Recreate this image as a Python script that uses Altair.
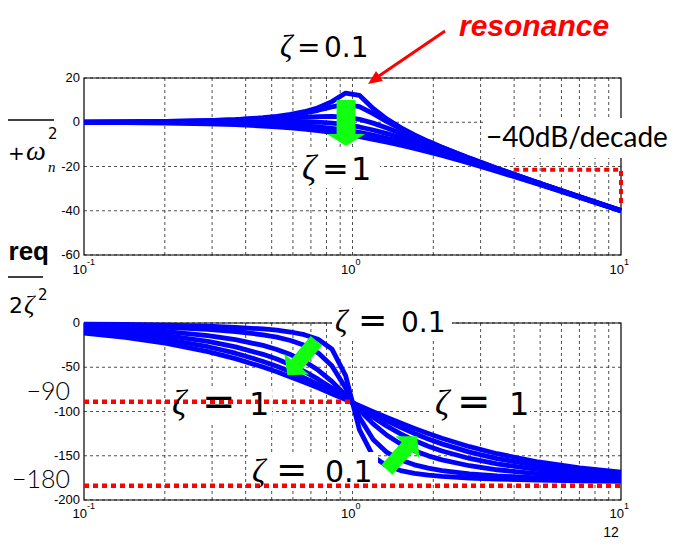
import altair as alt
import pandas as pd

# ---------------- values ----------------
OMEGA = [0.1, 0.1425, 0.2031, 0.2893, 0.3664, 0.4642, 0.5223, 0.5878, 0.6614,
         0.7444, 0.8377, 0.9427, 1.0608, 1.1938, 1.3434, 1.5118, 1.7013,
         1.9146, 2.1544, 2.7283, 3.4551, 4.9239, 7.0170, 10.0]
ZETA = [0.1, 0.2, 0.4, 0.6, 0.8, 1.0]

MAG_Z01 = [0.09, 0.18, 0.36, 0.74, 1.22, 2.05, 2.68, 3.54, 4.76, 6.56, 9.32, 13.19,
           12.17, 6.24, 1.43, -2.42, -5.69, -8.61, -11.29, -16.21, -20.80, -27.33, -33.67, -39.92]
MAG_Z02 = [0.08, 0.16, 0.34, 0.69, 1.13, 1.87, 2.42, 3.16, 4.13, 5.41, 6.96, 8.11,
           7.08, 3.89, 0.29, -3.05, -6.08, -8.86, -11.46, -16.31, -20.85, -27.36, -33.68, -39.92]
MAG_Z04 = [0.06, 0.12, 0.24, 0.49, 0.78, 1.23, 1.53, 1.87, 2.24, 2.57, 2.69, 2.36,
           1.33, -0.39, -2.56, -4.94, -7.36, -9.76, -12.10, -16.65, -21.05, -27.45, -33.73, -39.94]
MAG_Z06 = [0.02, 0.05, 0.09, 0.18, 0.26, 0.34, 0.35, 0.33, 0.24, 0.01, -0.41, -1.11,
           -2.14, -3.49, -5.11, -6.94, -8.90, -10.93, -13.00, -17.18, -21.36, -27.60, -33.80, -39.98]
MAG_Z08 = [-0.02, -0.05, -0.11, -0.23, -0.39, -0.67, -0.89, -1.18, -1.57, -2.09, -2.75, -3.59,
           -4.62, -5.83, -7.22, -8.75, -10.41, -12.17, -14.00, -17.82, -21.77, -27.80, -33.90, -40.02]
MAG_Z10 = [-0.09, -0.17, -0.35, -0.70, -1.09, -1.70, -2.10, -2.58, -3.15, -3.83, -4.62, -5.52,
           -6.55, -7.69, -8.96, -10.33, -11.81, -13.38, -15.03, -18.53, -22.24, -28.04, -34.02, -40.09]

PH_Z01 = [-1.16, -1.67, -2.43, -3.61, -4.84, -6.75, -8.17, -10.18, -13.23, -18.46, -29.32, -59.44,
          -120.56, -150.69, -161.54, -166.76, -169.82, -171.83, -173.25, -175.16, -176.38, -177.57, -178.33, -178.84]
PH_Z02 = [-2.31, -3.33, -4.84, -7.20, -9.61, -13.32, -16.03, -19.76, -25.19, -33.74, -48.33, -73.55,
          -106.45, -131.68, -146.27, -154.81, -160.24, -163.97, -166.69, -170.39, -172.80, -175.16, -176.67, -177.69]
PH_Z04 = [-4.62, -6.64, -9.62, -14.18, -18.70, -25.33, -29.88, -35.70, -43.24, -53.18, -66.00, -81.60,
          -98.40, -114.01, -126.82, -136.75, -144.30, -150.12, -154.67, -161.29, -165.82, -170.38, -173.36, -175.38]
PH_Z06 = [-6.91, -9.90, -14.26, -20.75, -26.92, -35.38, -40.76, -47.14, -54.67, -63.48, -73.47, -84.38,
          -95.62, -106.53, -116.52, -125.32, -132.86, -139.24, -144.63, -153.07, -159.24, -165.74, -170.10, -173.09]
PH_Z08 = [-9.18, -13.10, -18.72, -26.80, -34.10, -43.43, -48.97, -55.16, -62.00, -69.48, -77.45, -85.78,
          -94.22, -102.55, -110.53, -117.99, -124.84, -131.03, -136.57, -145.89, -153.18, -161.28, -166.90, -170.82]
PH_Z10 = [-11.42, -16.22, -22.96, -32.27, -40.25, -49.80, -55.15, -60.89, -66.96, -73.33, -79.91, -86.62,
          -93.38, -100.10, -106.67, -113.04, -119.11, -124.85, -130.20, -139.74, -147.71, -157.04, -163.78, -168.58]

MAGS = [MAG_Z01, MAG_Z02, MAG_Z04, MAG_Z06, MAG_Z08, MAG_Z10]
PHASES = [PH_Z01, PH_Z02, PH_Z04, PH_Z06, PH_Z08, PH_Z10]

GRID_W = [0.2, 0.3, 0.4, 0.5, 0.6, 0.7, 0.8, 0.9, 1, 2, 3, 4, 5, 6, 7, 8, 9]
MAG_TICKS = [20, 0, -20, -40, -60]
MAG_LABELS = ["20", "0", "-20", "-40", "-60"]
PHASE_TICKS = [0, -50, -100, -150, -200]
PHASE_LABELS = ["0", "-50", "-100", "-150", "-200"]
DECADE_W = [0.1, 1, 10]
DECADE_EXP = ["-1", "0", "1"]

SLOPE_W = [4, 10, 10]          # -40 dB/decade marker
SLOPE_DB = [-21.5, -21.5, -37]
REF90_W = [0.1, 1]
REF90_DEG = [-89, -89]
REF180_W = [0.1, 10]
REF180_DEG = [-184, -184]

ARROW_MAG_W, ARROW_MAG_DB = [0.946], [-0.3]
ARROW_PH_W, ARROW_PH_DEG, ARROW_PH_ANGLE = [0.648, 1.529], [-39.5, -146.9], [40, 222]

# ---------------- layout ----------------
OX, OY = 84, 78           # page position of the plot origin
PW, PH = 537, 422         # one view holding both panels
MAG_DOM = [-170.73, 20]   # puts 20..-60 dB in the upper 177 px
PH_DOM = [-200, 276.84]   # puts 0..-200 deg in the lower 177 px
TOP_H = 177

xs = alt.Scale(type="log", domain=[0.1, 10], nice=False)
ys_top = alt.Scale(domain=MAG_DOM, nice=False, zero=False)
ys_bot = alt.Scale(domain=PH_DOM, nice=False, zero=False)

ONE = pd.DataFrame({"k": [0]})
BLUE = "#0000ff"
RED = "#ff0000"
GREEN = "#11ff11"
SANS = "DejaVu Sans"
SERIF = "Liberation Serif"
TICKFONT = "Liberation Sans"

ARROW_BIG = "M -0.41 -1 L 0.41 -1 L 0.41 0.48 L 0.83 0.48 L 0 1 L -0.83 0.48 L -0.41 0.48 Z"
ARROW_SMALL = "M -0.33 -1 L 0.33 -1 L 0.33 0.36 L 0.72 0.36 L 0 1 L -0.72 0.36 L -0.33 0.36 Z"
HEAD = "M 0 0 L 0.6 1.4 L -0.6 1.4 Z"


def txt(s, x, y, size, font=SANS, align="left", color="black", style="normal",
        weight="normal", baseline="alphabetic"):
    return alt.Chart(ONE).mark_text(
        text=s, align=align, baseline=baseline, font=font, fontSize=size,
        fontStyle=style, fontWeight=weight, color=color
    ).encode(x=alt.value(x - OX), y=alt.value(y - OY))


def box(x1, y1, x2, y2):
    return alt.Chart(ONE).mark_rect(color="white").encode(
        x=alt.value(x1 - OX), x2=alt.value(x2 - OX), y=alt.value(y1 - OY), y2=alt.value(y2 - OY))


def hrule(x1, x2, y, w=1.5, color="black"):
    return alt.Chart(ONE).mark_rule(color=color, strokeWidth=w).encode(
        x=alt.value(x1 - OX), x2=alt.value(x2 - OX), y=alt.value(y - OY))


def zlabel(zx, ex, nx, base, size, num, eq_scale=1.25):
    return [txt("ζ", zx, base, size * 1.1, font=SERIF, style="italic"),
            txt("=", ex, base, size * eq_scale),
            txt(num, nx, base, size)]


def panel_axes(ticks, labels, scale):
    d = pd.DataFrame({"t": ticks, "s": labels})
    hgrid = alt.Chart(d).mark_rule(color="#222222", strokeWidth=0.8, strokeDash=[3, 3]).encode(
        x=alt.value(0), x2=alt.value(PW), y=alt.Y("t:Q", scale=scale, axis=None))
    lab = alt.Chart(d).mark_text(align="right", baseline="middle", dx=-4, font=TICKFONT,
                                 fontSize=13, color="black").encode(
        x=alt.value(0), y=alt.Y("t:Q", scale=scale, axis=None), text="s:N")
    return hgrid, lab


rows = []
for z, mags, phs in zip(ZETA, MAGS, PHASES):
    for w, m, p in zip(OMEGA, mags, phs):
        rows.append({"w": w, "zeta": z, "mag": m, "phase": p})
curves = pd.DataFrame(rows)


def X(f):
    return alt.X(f, scale=xs, axis=None)


dec = pd.DataFrame({"v": DECADE_W, "e": DECADE_EXP})


def decade_labels(base_y):
    b = alt.Chart(dec).mark_text(text="10", align="right", baseline="alphabetic", dx=3,
                                 font=TICKFONT, fontSize=13, color="black").encode(
        x=X("v:Q"), y=alt.value(base_y))
    e = alt.Chart(dec).mark_text(align="left", baseline="alphabetic", dx=3,
                                 font=TICKFONT, fontSize=9, color="black").encode(
        x=X("v:Q"), y=alt.value(base_y - 9), text="e:N")
    return b, e


# ---------------- upper panel (magnitude) ----------------
grid_top = alt.Chart(pd.DataFrame({"gx": GRID_W, "ya": MAG_TICKS[0], "yb": MAG_TICKS[-1]})).mark_rule(
    color="#222222", strokeWidth=0.8, strokeDash=[3, 3]).encode(
    x=X("gx:Q"), y=alt.Y("ya:Q", scale=ys_top, axis=None), y2="yb:Q")
hgrid_top, lab_top = panel_axes(MAG_TICKS, MAG_LABELS, ys_top)
frame_top = alt.Chart(pd.DataFrame({"xa": [DECADE_W[0]], "xb": [DECADE_W[-1]],
                                    "ya": [MAG_TICKS[0]], "yb": [MAG_TICKS[-1]]})).mark_rect(
    fillOpacity=0, stroke="black", strokeWidth=1.2).encode(
    x=X("xa:Q"), x2="xb:Q", y=alt.Y("ya:Q", scale=ys_top, axis=None), y2="yb:Q")
lines_top = alt.Chart(curves).mark_line(color=BLUE, strokeWidth=4.8, strokeJoin="round").encode(
    x=X("w:Q"), y=alt.Y("mag:Q", scale=ys_top, axis=None), detail="zeta:N")
slope = alt.Chart(pd.DataFrame({"w": SLOPE_W, "db": SLOPE_DB, "o": [0, 1, 2]})).mark_line(
    color=RED, strokeWidth=4, strokeDash=[5, 4], strokeCap="butt").encode(
    x=X("w:Q"), y=alt.Y("db:Q", scale=ys_top, axis=None), order="o:Q")
green_top = alt.Chart(pd.DataFrame({"w": ARROW_MAG_W, "db": ARROW_MAG_DB})).mark_point(
    shape=ARROW_BIG, filled=True, color=GREEN, opacity=1, size=2116).encode(
    x=X("w:Q"), y=alt.Y("db:Q", scale=ys_top, axis=None))
dec_top, exp_top = decade_labels(TOP_H + 19)

top_layers = [grid_top, hgrid_top, frame_top, lab_top, lines_top,
              box(484, 118, 666, 158), box(300, 150, 380, 188),
              slope, green_top, dec_top, exp_top]
top_layers += [
    txt("resonance", 459, 36, 30, font="Liberation Sans", style="italic", weight="bold", color=RED),
    alt.Chart(ONE).mark_rule(color=RED, strokeWidth=3).encode(
        x=alt.value(445 - OX), y=alt.value(31 - OY), x2=alt.value(376 - OX), y2=alt.value(78 - OY)),
    alt.Chart(ONE).mark_point(shape=HEAD, filled=True, color=RED, opacity=1, size=400, angle=235).encode(
        x=alt.value(368 - OX), y=alt.value(84 - OY)),
    txt("−40dB/decade", 486, 147, 28, font="Lato"),
]
top_layers += zlabel(280, 297, 324, 57, 28, "0.1", eq_scale=1.0)
top_layers += zlabel(302, 322, 351, 180, 32, "1", eq_scale=1.0)
# fragments of the slide on the left edge
top_layers += [
    hrule(8, 54, 120),
    txt("+", 8, 160, 20),
    txt("ω", 26, 160, 28, font=SERIF, style="italic"),
    txt("2", 48, 139, 15),
    txt("n", 48, 172, 15, font=SERIF, style="italic"),
    txt("req", 49, 260, 26, font="Liberation Sans", weight="bold", align="right"),
    hrule(8, 43, 277),
    txt("2", 9, 313, 22),
    txt("ζ", 24, 313, 26, font=SERIF, style="italic"),
    txt("2", 38, 300, 15),
]
top = alt.layer(*top_layers)

# ---------------- lower panel (phase) ----------------
grid_bot = alt.Chart(pd.DataFrame({"gx": GRID_W, "ya": PHASE_TICKS[0], "yb": PHASE_TICKS[-1]})).mark_rule(
    color="#222222", strokeWidth=0.8, strokeDash=[3, 3]).encode(
    x=X("gx:Q"), y=alt.Y("ya:Q", scale=ys_bot, axis=None), y2="yb:Q")
hgrid_bot, lab_bot = panel_axes(PHASE_TICKS, PHASE_LABELS, ys_bot)
frame_bot = alt.Chart(pd.DataFrame({"xa": [DECADE_W[0]], "xb": [DECADE_W[-1]],
                                    "ya": [PHASE_TICKS[0]], "yb": [PHASE_TICKS[-1]]})).mark_rect(
    fillOpacity=0, stroke="black", strokeWidth=1.2).encode(
    x=X("xa:Q"), x2="xb:Q", y=alt.Y("ya:Q", scale=ys_bot, axis=None), y2="yb:Q")
lines_bot = alt.Chart(curves).mark_line(color=BLUE, strokeWidth=4.8, strokeJoin="round").encode(
    x=X("w:Q"), y=alt.Y("phase:Q", scale=ys_bot, axis=None), detail="zeta:N")
ref90 = alt.Chart(pd.DataFrame({"w": REF90_W, "d": REF90_DEG})).mark_line(
    color=RED, strokeWidth=4.5, strokeDash=[5, 4], strokeCap="butt").encode(
    x=X("w:Q"), y=alt.Y("d:Q", scale=ys_bot, axis=None))
ref180 = alt.Chart(pd.DataFrame({"w": REF180_W, "d": REF180_DEG})).mark_line(
    color=RED, strokeWidth=4.5, strokeDash=[5, 4], strokeCap="butt").encode(
    x=X("w:Q"), y=alt.Y("d:Q", scale=ys_bot, axis=None))
green_bot = alt.Chart(pd.DataFrame({"w": ARROW_PH_W, "d": ARROW_PH_DEG, "a": ARROW_PH_ANGLE})).mark_point(
    shape=ARROW_SMALL, filled=True, color=GREEN, opacity=1, size=2025).encode(
    x=X("w:Q"), y=alt.Y("d:Q", scale=ys_bot, axis=None),
    angle=alt.Angle("a:Q", scale=None))
dec_bot, exp_bot = decade_labels(PH + 18)

bot_layers = [grid_bot, hgrid_bot, frame_bot, lab_bot, lines_bot, green_bot,
              box(332, 305, 452, 340), box(168, 388, 272, 424),
              box(432, 388, 530, 424), box(248, 452, 378, 490),
              ref90, ref180, dec_bot, exp_bot]
bot_layers += zlabel(335, 358, 401, 332, 28, "0.1")
bot_layers += zlabel(172, 202, 249, 415, 32, "1")
bot_layers += zlabel(435, 457, 509, 415, 32, "1")
bot_layers += zlabel(252, 276, 325, 482, 30, "0.1")
bot_layers += [
    txt("−90", 70, 400, 25, font="Lato", weight=300, align="right"),
    txt("−180", 70, 488, 25, font="Lato", weight=300, align="right"),
    txt("12", 611, 537, 14, font=TICKFONT, align="center"),
]
bottom = alt.layer(*bot_layers)

chart = alt.layer(top, bottom).resolve_scale(y="independent").properties(
    width=PW, height=PH,
    autosize=alt.AutoSizeParams(type="none"),
    padding={"left": 76, "top": 70, "right": 52, "bottom": 40},
).configure_view(stroke=None)

chart.save("out.html", embed_options={"renderer": "svg", "actions": False})
